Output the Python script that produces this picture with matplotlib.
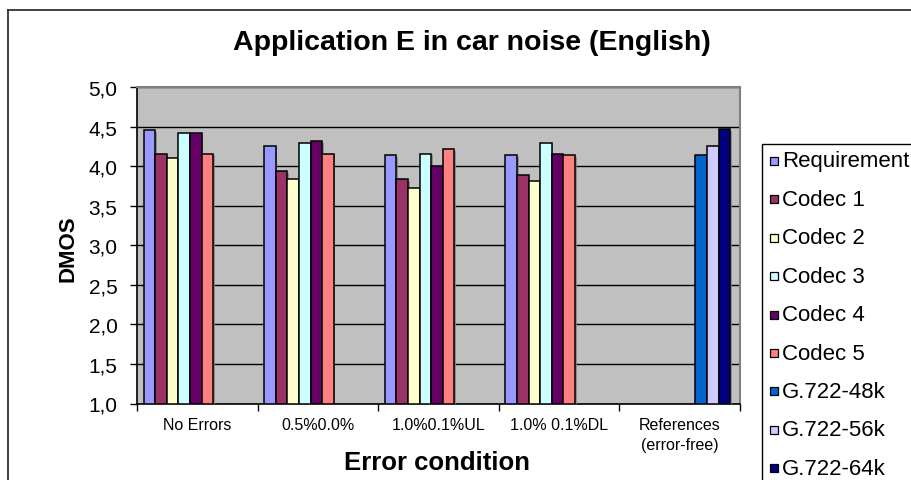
import numpy as np
import matplotlib
matplotlib.use("Agg")
import matplotlib.pyplot as plt
from matplotlib.patches import Rectangle
from matplotlib.lines import Line2D
from matplotlib.ticker import FuncFormatter, MultipleLocator
import matplotlib.patheffects as pe

plt.rcParams['font.family'] = ['Liberation Sans', 'DejaVu Sans']

# Data
categories = ["No Errors", "0.5%0.0%", "1.0%0.1%UL", "1.0% 0.1%DL", "References\n(error-free)"]
series_names = ["Requirement", "Codec 1", "Codec 2", "Codec 3", "Codec 4", "Codec 5",
                "G.722-48k", "G.722-56k", "G.722-64k"]
nan = np.nan
requirement = [4.46, 4.26, 4.14, 4.14, nan]
codec1 = [4.16, 3.94, 3.84, 3.89, nan]
codec2 = [4.11, 3.84, 3.72, 3.81, nan]
codec3 = [4.42, 4.30, 4.16, 4.29, nan]
codec4 = [4.42, 4.32, 4.01, 4.16, nan]
codec5 = [4.16, 4.16, 4.22, 4.14, nan]
g722_48k = [nan, nan, nan, nan, 4.14]
g722_56k = [nan, nan, nan, nan, 4.26]
g722_64k = [nan, nan, nan, nan, 4.47]
series_values = [requirement, codec1, codec2, codec3, codec4, codec5,
                 g722_48k, g722_56k, g722_64k]
colors = ["#9999FF", "#993366", "#FFFFCC", "#CCFFFF", "#660066", "#FF8080",
          "#0066CC", "#CCCCFF", "#000080"]

W, H = 912, 481
fig = plt.figure(figsize=(W / 100, H / 100), dpi=100)

def fx(px):
    return px / W

def fy(py):
    return 1 - py / H

# Plot area
left, right, top, bottom = 137, 740, 88.3, 404.5
ax = fig.add_axes([fx(left), fy(bottom), fx(right) - fx(left), fy(top) - fy(bottom)])
ax.set_facecolor("#C0C0C0")
ax.set_xlim(0, len(categories))
ax.set_ylim(1.0, 5.0)

bar_w = 0.096
start = 0.055
x = np.arange(len(categories))
shadow = [pe.SimplePatchShadow(offset=(1.2, -1.2), shadow_rgbFace="#808080", alpha=0.8), pe.Normal()]
for k, (vals, col) in enumerate(zip(series_values, colors)):
    vals = np.array(vals, dtype=float)
    xs = x + start + k * bar_w
    mask = ~np.isnan(vals)
    bars = ax.bar(xs[mask], vals[mask] - 1.0, bottom=1.0, width=bar_w, align="edge",
                  color=col, edgecolor="black", linewidth=1.1, zorder=3)
    for b in bars:
        b.set_path_effects(shadow)

# Grid
ax.yaxis.set_major_locator(MultipleLocator(0.5))
ax.grid(axis="y", color="black", linewidth=1.0, zorder=1)
ax.set_axisbelow(True)
ax.yaxis.set_major_formatter(FuncFormatter(lambda v, p: f"{v:.1f}".replace(".", ",")))
ax.tick_params(axis="y", direction="out", length=5, width=1, pad=9, labelsize=15, colors="black")

# Category boundaries as major ticks, labels at centres
ax.set_xticks(np.arange(len(categories) + 1))
ax.set_xticklabels([])
ax.set_xticks(x + 0.5, minor=True)
ax.set_xticklabels(categories, minor=True, fontsize=11.5, linespacing=1.35, va="top")
ax.tick_params(axis="x", which="major", direction="out", length=5, width=1)
ax.tick_params(axis="x", which="minor", length=0, pad=10)

for s in ["left", "bottom"]:
    ax.spines[s].set_color("black")
    ax.spines[s].set_linewidth(1.2)
for s in ["top", "right"]:
    ax.spines[s].set_color("#808080")
    ax.spines[s].set_linewidth(1.5)

# Titles
fig.text(fx(472), fy(43), "Application E in car noise (English)", ha="center", va="center",
         fontsize=20.5, fontweight="bold")
fig.text(fx(437), fy(463), "Error condition", ha="center", va="center",
         fontsize=18.5, fontweight="bold")
fig.text(fx(68), fy(249), "DMOS", ha="center", va="center", rotation=90,
         fontsize=16, fontweight="bold")

# Outer chart frame
fig.add_artist(Line2D([fx(8), fx(8)], [fy(11), fy(H + 5)], color="#333333", linewidth=1.3))
fig.add_artist(Line2D([fx(8), fx(W + 5)], [fy(11), fy(11)], color="#333333", linewidth=1.3))

# Legend
fig.add_artist(Rectangle((fx(762), fy(495)), fx(170), fy(144.7) - fy(495),
                         transform=fig.transFigure, facecolor="white",
                         edgecolor="black", linewidth=1.0))
for k, (name, col) in enumerate(zip(series_names, colors)):
    yc = 162 + 38.4 * k
    fig.add_artist(Rectangle((fx(770), fy(yc + 4)), fx(8), fy(yc - 4) - fy(yc + 4),
                             transform=fig.transFigure, facecolor=col,
                             edgecolor="black", linewidth=0.9))
    fig.text(fx(782), fy(yc), name, ha="left", va="center", fontsize=16)

fig.savefig("out.png", dpi=100)
